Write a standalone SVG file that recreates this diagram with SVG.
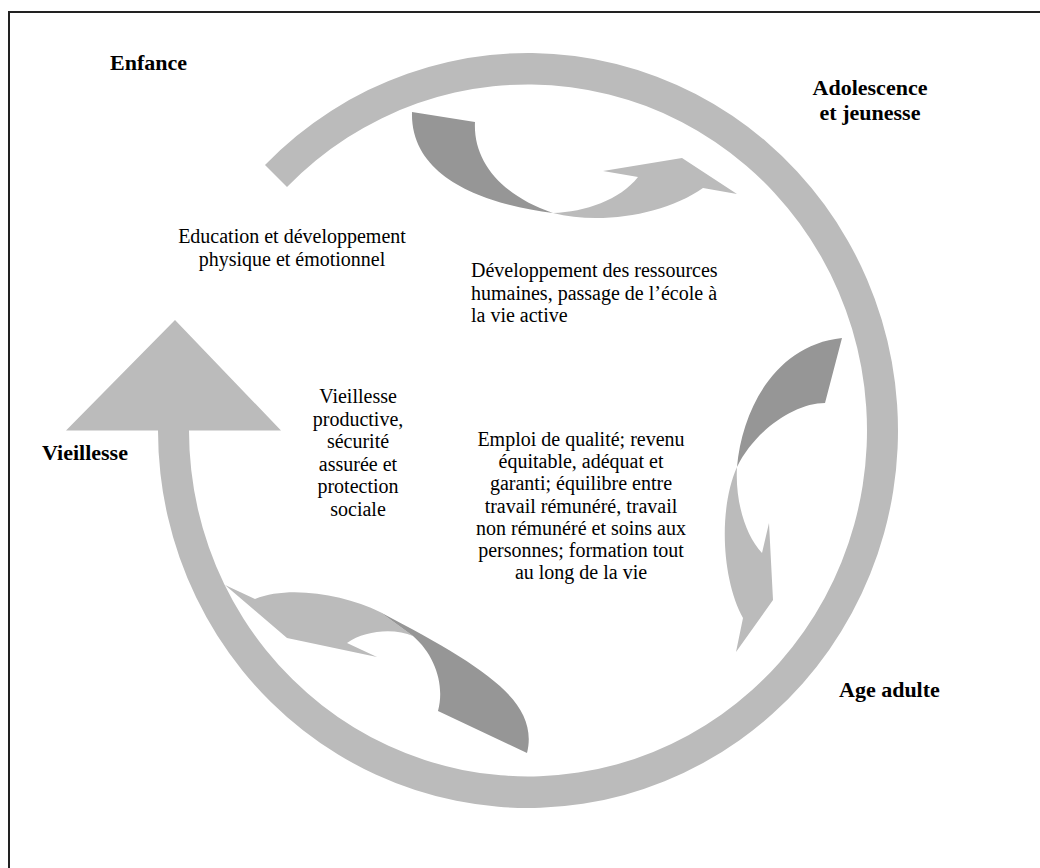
<svg xmlns="http://www.w3.org/2000/svg" width="1040" height="868" viewBox="0 0 1040 868">
<style>
.light{fill:#bbbbbb}
.dark{fill:#969696}
.body{font-family:"Liberation Serif","Times New Roman",serif;font-size:20px;fill:#000}
.lbl{font-family:"Liberation Serif","Times New Roman",serif;font-size:22px;font-weight:bold;fill:#000}
</style>
<rect x="0" y="0" width="1040" height="868" fill="#ffffff"/>
<rect x="9" y="12" width="1100" height="900" fill="none" stroke="#222" stroke-width="2"/>
<g id="connectors">
<path id="cycle-ring" class="light" d="M265,165 A370,377.5 0 1 1 158,430.5 L66,430.5 L175,320 L281,430.5 L189,430.5 A339,346 0 1 0 287,187.1 Z"/>
<g id="arrow-top">
<path class="light" d="M553,213 C600,225 665,215 703,188 L737,194 L682,158 L603,171 L638,177 C620,200 585,212 553,213 Z"/>
<path class="dark" d="M412,112 L475,122 C473,160 500,195 553,213 C490,205 410,180 412,112 Z"/>
</g>
<g id="arrow-right">
<path class="light" d="M737,467 C735,500 745,535 762,553 L769,523 L773,600 L736,652 L743,618 C722,580 718,510 737,467 Z"/>
<path class="dark" d="M842,338 L825,403 C795,403 755,430 737,467 C742,410 775,345 842,338 Z"/>
</g>
<g id="arrow-bottom">
<path class="light" d="M225,585 L255,599 C290,585 345,595 380,612 L413,636 C395,628 365,630 347,643 L377,657 L287,638 Z"/>
<path class="dark" d="M380,612 C480,665 540,700 527,753 L438,711 C445,685 435,655 413,636 Z"/>
</g>
</g>
<g id="enfance">
<text class="lbl" x="110" y="70">Enfance</text>
<text class="body" text-anchor="middle"><tspan x="292" y="243">Education et développement</tspan><tspan x="292" y="266">physique et émotionnel</tspan></text>
</g>
<g id="adolescence">
<text class="lbl" text-anchor="middle"><tspan x="870" y="95">Adolescence</tspan><tspan x="870" y="120">et jeunesse</tspan></text>
<text class="body"><tspan x="471" y="277">Développement des ressources</tspan><tspan x="471" y="299.5">humaines, passage de l’école à</tspan><tspan x="471" y="322">la vie active</tspan></text>
</g>
<g id="age-adulte">
<text class="lbl" x="839" y="697">Age adulte</text>
<text class="body" text-anchor="middle"><tspan x="581" y="446">Emploi de qualité; revenu</tspan><tspan x="581" y="468.2">équitable, adéquat et</tspan><tspan x="581" y="490.4">garanti; équilibre entre</tspan><tspan x="581" y="512.6">travail rémunéré, travail</tspan><tspan x="581" y="534.8">non rémunéré et soins aux</tspan><tspan x="581" y="557">personnes; formation tout</tspan><tspan x="581" y="579.2">au long de la vie</tspan></text>
</g>
<g id="vieillesse">
<text class="lbl" x="42" y="460">Vieillesse</text>
<text class="body" text-anchor="middle"><tspan x="358" y="403">Vieillesse</tspan><tspan x="358" y="425.5">productive,</tspan><tspan x="358" y="448">sécurité</tspan><tspan x="358" y="470.5">assurée et</tspan><tspan x="358" y="493">protection</tspan><tspan x="358" y="515.5">sociale</tspan></text>
</g>
</svg>
